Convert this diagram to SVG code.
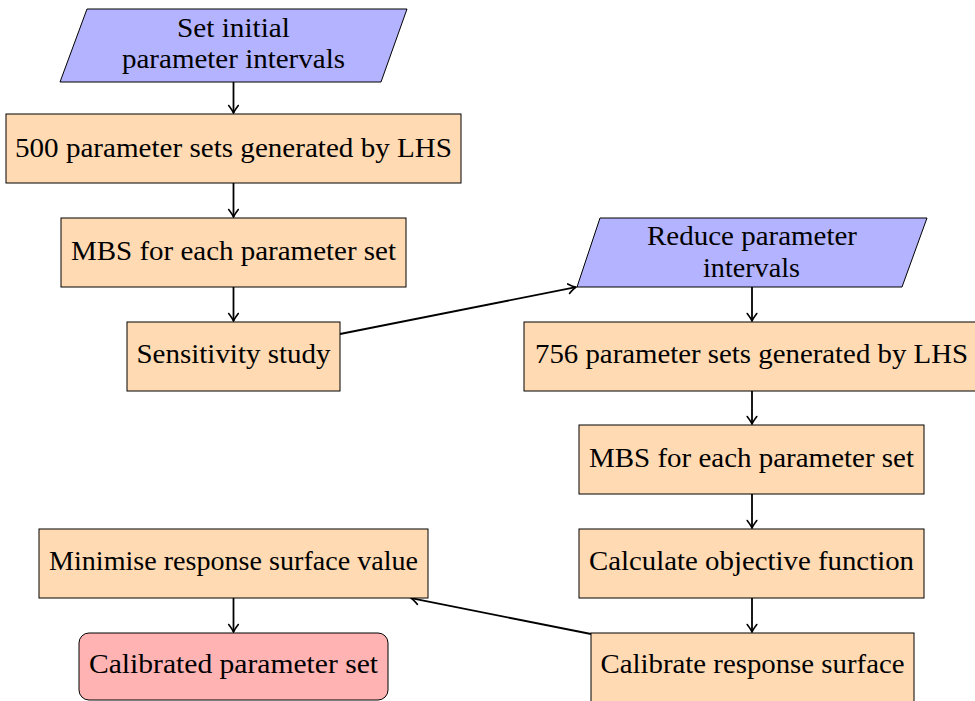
<svg xmlns="http://www.w3.org/2000/svg" width="975" height="701" viewBox="0 0 975 701">
  <style>
    .proc { fill: #FFDAB3; stroke: #000; stroke-width: 1; }
    .io { fill: #B3B3FF; stroke: #000; stroke-width: 1; }
    .end { fill: #FFB3B3; stroke: #000; stroke-width: 1; }
    .lbl { font-size: 27px; fill: #000; text-anchor: middle; }
    .conn { stroke: #000; stroke-width: 1.8; fill: none; marker-end: url(#arr); }
  </style>
  <defs>
    <marker id="arr" markerUnits="userSpaceOnUse" markerWidth="14" markerHeight="14" refX="0" refY="0" viewBox="-10 -7 12 14" orient="auto">
      <path d="M -7.5 -4.8 Q -2.5 -1 0 0 Q -2.5 1 -7.5 4.8" fill="none" stroke="#000" stroke-width="1.6" stroke-linecap="round"/>
    </marker>
  </defs>
  <rect width="975" height="701" fill="#fff"/>

  <g id="connectors">
    <line class="conn" x1="233.5" y1="82" x2="233.5" y2="113"/>
    <line class="conn" x1="233.5" y1="183" x2="233.5" y2="217"/>
    <line class="conn" x1="233.5" y1="287" x2="233.5" y2="321"/>
    <line class="conn" x1="340" y1="334" x2="576" y2="287.2"/>
    <line class="conn" x1="752" y1="287" x2="752" y2="321"/>
    <line class="conn" x1="752" y1="391" x2="752" y2="424"/>
    <line class="conn" x1="752" y1="494" x2="752" y2="528"/>
    <line class="conn" x1="752" y1="598" x2="752" y2="632"/>
    <line class="conn" x1="591" y1="634" x2="411" y2="598.2"/>
    <line class="conn" x1="233.5" y1="598" x2="233.5" y2="632"/>
  </g>

  <g id="nodes" font-family="Liberation Serif, DejaVu Serif, serif">
  <g id="set-initial">
    <polygon class="io" points="87,9 407,9 381,82 60,82"/>
    <text class="lbl" x="233.5" y="37" textLength="113" lengthAdjust="spacingAndGlyphs">Set initial</text>
    <text class="lbl" x="233.5" y="68" textLength="223" lengthAdjust="spacingAndGlyphs">parameter intervals</text>
  </g>

  <g id="lhs-500">
    <rect class="proc" x="6" y="114" width="455" height="69"/>
    <text class="lbl" x="233.5" y="157" textLength="437" lengthAdjust="spacingAndGlyphs">500 parameter sets generated by LHS</text>
  </g>

  <g id="mbs-1">
    <rect class="proc" x="61" y="218" width="345" height="69"/>
    <text class="lbl" x="233.5" y="260" textLength="325" lengthAdjust="spacingAndGlyphs">MBS for each parameter set</text>
  </g>

  <g id="sensitivity">
    <rect class="proc" x="127" y="322" width="213" height="69"/>
    <text class="lbl" x="233.5" y="363" textLength="194" lengthAdjust="spacingAndGlyphs">Sensitivity study</text>
  </g>

  <g id="reduce">
    <polygon class="io" points="600,218 927,218 902,287 577,287"/>
    <text class="lbl" x="752" y="245" textLength="210" lengthAdjust="spacingAndGlyphs">Reduce parameter</text>
    <text class="lbl" x="751.5" y="277" textLength="97" lengthAdjust="spacingAndGlyphs">intervals</text>
  </g>

  <g id="lhs-756">
    <rect class="proc" x="524" y="322" width="460" height="69"/>
    <text class="lbl" x="751.5" y="363" textLength="433" lengthAdjust="spacingAndGlyphs">756 parameter sets generated by LHS</text>
  </g>

  <g id="mbs-2">
    <rect class="proc" x="579" y="425" width="345" height="69"/>
    <text class="lbl" x="751.5" y="467" textLength="325" lengthAdjust="spacingAndGlyphs">MBS for each parameter set</text>
  </g>

  <g id="objective">
    <rect class="proc" x="579" y="529" width="345" height="69"/>
    <text class="lbl" x="751.5" y="570" textLength="325" lengthAdjust="spacingAndGlyphs">Calculate objective function</text>
  </g>

  <g id="response-surface">
    <rect class="proc" x="591" y="633" width="323" height="75"/>
    <text class="lbl" x="752.5" y="673" textLength="304" lengthAdjust="spacingAndGlyphs">Calibrate response surface</text>
  </g>

  <g id="minimise">
    <rect class="proc" x="39" y="529" width="389" height="69"/>
    <text class="lbl" x="233.5" y="570" textLength="369" lengthAdjust="spacingAndGlyphs">Minimise response surface value</text>
  </g>

  <g id="calibrated">
    <rect class="end" x="79" y="633" width="309" height="67" rx="10" ry="10"/>
    <text class="lbl" x="233.5" y="673" textLength="289" lengthAdjust="spacingAndGlyphs">Calibrated parameter set</text>
  </g>
  </g>
</svg>
